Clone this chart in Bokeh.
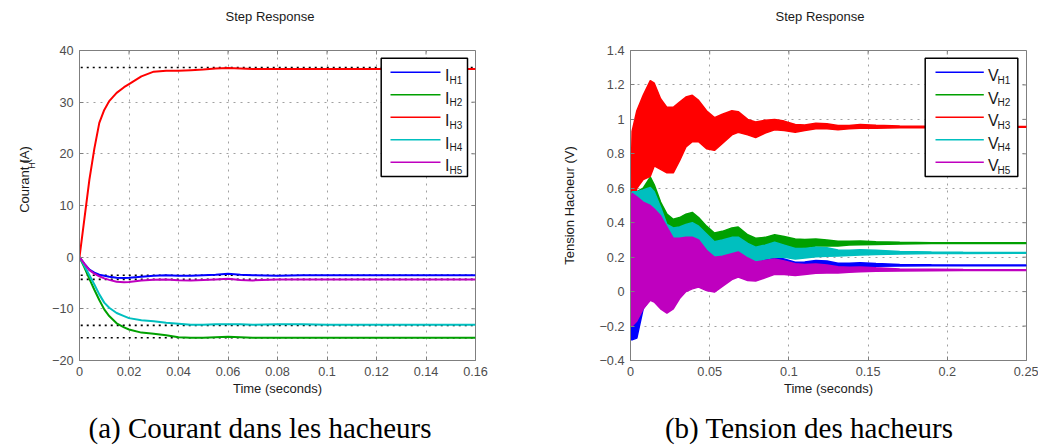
import numpy as np
from bokeh.plotting import figure
from bokeh.models import Range1d, FixedTicker, Div, Spacer
from bokeh.layouts import row, column
from bokeh.embed import file_html
from bokeh.resources import INLINE
from bokeh.core.properties import value

# ---------------- data: (a) currents ----------------
t_i = [0, 0.002, 0.004, 0.006, 0.008, 0.01, 0.012, 0.015, 0.018, 0.02, 0.025, 0.03, 0.035,
       0.04, 0.045, 0.05, 0.055, 0.06, 0.065, 0.07, 0.08, 0.09, 0.1, 0.12, 0.14, 0.16]
i_h1 = [0, -1.3, -2.4, -3.0, -3.4, -3.6, -3.8, -4.0, -4.05, -4.0, -3.8, -3.6, -3.5,
        -3.6, -3.6, -3.5, -3.4, -3.2, -3.4, -3.5, -3.6, -3.5, -3.5, -3.5, -3.5, -3.5]
i_h2 = [0, -2.0, -4.2, -6.3, -8.3, -10.1, -11.4, -12.8, -13.6, -14.0, -14.6, -14.8, -15.1,
        -15.5, -15.6, -15.6, -15.5, -15.4, -15.5, -15.6, -15.6, -15.6, -15.6, -15.6, -15.6, -15.6]
i_h3 = [0, 7.5, 15, 21, 26, 28.5, 30.2, 31.8, 32.9, 33.5, 35.0, 35.9, 36.1,
        36.1, 36.2, 36.3, 36.5, 36.6, 36.5, 36.4, 36.4, 36.4, 36.4, 36.4, 36.4, 36.4]
i_h4 = [0, -1.7, -3.5, -5.3, -7.2, -8.8, -9.8, -10.8, -11.4, -11.8, -12.2, -12.4, -12.7,
        -12.9, -13.1, -13.1, -13.0, -13.0, -13.0, -13.1, -13.0, -13.0, -13.1, -13.1, -13.1, -13.1]
i_h5 = [0, -1.3, -2.5, -3.2, -3.7, -4.1, -4.4, -4.75, -4.85, -4.8, -4.5, -4.35, -4.3,
        -4.45, -4.5, -4.4, -4.3, -4.2, -4.4, -4.5, -4.3, -4.3, -4.3, -4.3, -4.3, -4.3]
i_steady = [36.7, -3.5, -4.3, -13.2, -15.6]
i_steady_span = [0.0005, 0.16]

# ---------------- data: (b) voltages (envelopes of the oscillation) ----------------
t_v = [0, 0.001, 0.004, 0.008, 0.0125, 0.015, 0.019, 0.023, 0.027, 0.031, 0.035, 0.039,
       0.043, 0.048, 0.053, 0.058, 0.064, 0.068, 0.074, 0.079, 0.085, 0.091, 0.097, 0.104,
       0.11, 0.117, 0.124, 0.131, 0.138, 0.145, 0.155, 0.17, 0.19, 0.21, 0.25]
v_h1_hi = [.45, .5, .5, .48, .45, .43, .4, .34, .28, .28, .29, .3, .28, .22, .18, .19, .21, .215,
           .19, .17, .19, .2, .19, .17, .172, .18, .178, .165, .165, .168, .163, .158, .156, .155, .155]
v_h1_lo = [-.28, -.28, -.27, -.1, -.04, -.05, -.09, -.11, -.09, -.03, .01, .03, .04, .02, .01, .04,
           .08, .09, .08, .075, .09, .11, .11, .105, .11, .12, .125, .135, .14, .145, .147, .149, .15, .15, .15]
v_h2_hi = [.45, .55, .58, .6, .665, .62, .52, .45, .42, .43, .45, .46, .43, .38, .34, .35, .37, .375,
           .33, .31, .315, .33, .32, .305, .303, .306, .3, .292, .292, .294, .29, .286, .284, .283, .283]
v_h2_lo = [.3, .3, .3, .3, .32, .33, .3, .3, .3, .3, .32, .34, .33, .28, .26, .27, .28, .28, .26,
           .24, .25, .265, .26, .25, .255, .265, .265, .265, .27, .272, .274, .277, .279, .28, .28]
v_h3_hi = [.47, .93, 1.05, 1.14, 1.225, 1.21, 1.12, 1.07, 1.07, 1.10, 1.13, 1.14, 1.11, 1.05, 1.01,
           1.03, 1.05, 1.045, 1.0, .985, .995, 1.0, .99, .97, .968, .978, .975, .965, .965, .97,
           .966, .962, .96, .959, .958]
v_h3_lo = [.45, .48, .6, .65, .67, .73, .71, .69, .69, .76, .84, .87, .87, .83, .82, .86, .91, .925,
           .91, .895, .92, .94, .935, .925, .935, .945, .945, .94, .945, .948, .949, .951, .952, .953, .954]
v_h4_hi = [.5, .58, .58, .59, .605, .58, .49, .39, .37, .375, .39, .4, .38, .335, .29, .3, .315, .316,
           .28, .258, .27, .287, .27, .25, .25, .258, .255, .242, .24, .243, .24, .233, .23, .228, .227]
v_h4_lo = [.45, .5, .5, .48, .46, .44, .4, .34, .28, .28, .29, .29, .27, .21, .17, .18, .2, .21, .18,
           .17, .19, .2, .2, .19, .195, .203, .205, .207, .21, .213, .216, .219, .221, .222, .223]
v_h5_hi = [.5, .57, .55, .52, .5, .48, .44, .375, .31, .31, .315, .316, .3, .24, .2, .205, .22, .23,
           .195, .172, .18, .19, .178, .162, .158, .16, .155, .145, .142, .143, .138, .132, .13, .128, .127]
v_h5_lo = [-.19, -.2, -.17, -.1, -.05, -.06, -.1, -.125, -.1, -.04, 0, .016, .026, .006, -.003, .03,
           .07, .084, .065, .062, .08, .1, .1, .094, .1, .107, .108, .108, .112, .116, .118, .12,
           .121, .122, .122]

# ---------------- ticks and texts ----------------
xt_a = [0, 0.02, 0.04, 0.06, 0.08, 0.1, 0.12, 0.14, 0.16]
xt_a_labels = ["0", "0.02", "0.04", "0.06", "0.08", "0.1", "0.12", "0.14", "0.16"]
yt_a = [-20, -10, 0, 10, 20, 30, 40]
yt_a_labels = ["\u221220", "\u221210", "0", "10", "20", "30", "40"]
xt_b = [0, 0.05, 0.1, 0.15, 0.2, 0.25]
xt_b_labels = ["0", "0.05", "0.1", "0.15", "0.2", "0.25"]
yt_b = [-0.4, -0.2, 0, 0.2, 0.4, 0.6, 0.8, 1.0, 1.2, 1.4]
yt_b_labels = ["\u22120.4", "\u22120.2", "0", "0.2", "0.4", "0.6", "0.8", "1", "1.2", "1.4"]

colors = ["#0000ff", "#00a000", "#ff0000", "#00bfbf", "#bf00bf"]
subs = ["H1", "H2", "H3", "H4", "H5"]

SANS = "Liberation Sans"
SERIF = "Liberation Serif"
GRAY = "#7f7f7f"
TXT = "#1a1a1a"

# layout geometry (screen px)
TOP_H = 34            # title row
FIG_H = 380           # plots row
CAP_H = 446 - TOP_H - FIG_H
FT, FH, FW = 50, 310, 396
A_LEFT = 79
B_LEFT = 630
YLAB_W = 40


def make_fig(width, xr, yr, border_left, border_right, xt, xl, yt, yl):
    p = figure(width=width, height=FIG_H, x_range=Range1d(*xr), y_range=Range1d(*yr),
               output_backend="svg", toolbar_location=None, title=None,
               min_border_left=border_left, min_border_right=border_right,
               min_border_top=FT - TOP_H, min_border_bottom=FIG_H - (FT - TOP_H) - FH,
               margin=0)
    p.outline_line_color = GRAY
    p.outline_line_width = 1
    p.background_fill_color = "white"
    p.border_fill_color = "white"
    p.xaxis.ticker = FixedTicker(ticks=xt)
    p.yaxis.ticker = FixedTicker(ticks=yt)
    p.xaxis.major_label_overrides = dict(zip(xt, xl))
    p.yaxis.major_label_overrides = dict(zip(yt, yl))
    for ax in (p.xaxis[0], p.yaxis[0]):
        ax.axis_line_color = GRAY
        ax.major_tick_line_color = GRAY
        ax.major_tick_in = 4
        ax.major_tick_out = 0
        ax.minor_tick_line_color = None
        ax.major_label_text_font = SANS
        ax.major_label_text_font_size = "12.7px"
        ax.major_label_text_color = "#4d4d4d"
        ax.axis_label_text_font = SANS
        ax.axis_label_text_font_size = "13px"
        ax.axis_label_text_font_style = "normal"
        ax.axis_label_text_color = TXT
    p.xaxis.major_label_standoff = 6
    p.yaxis.major_label_standoff = 6
    p.xaxis.axis_label = "Time (seconds)"
    p.xaxis.axis_label_standoff = 2
    for g in (p.xgrid[0], p.ygrid[0]):
        g.grid_line_color = "#a0a0a0"
        g.grid_line_dash = "2 5"
        g.grid_line_width = 1
    # tick marks on the top and right sides of the box, from the tick arrays
    x0, x1 = xr
    y0, y1 = yr
    dx = (x1 - x0) * 4 / FW
    dy = (y1 - y0) * 4 / FH
    p.segment(x0=xt, y0=[y1] * len(xt), x1=xt, y1=[y1 - dy] * len(xt),
              line_color=GRAY, line_width=1)
    p.segment(x0=[x1] * len(yt), y0=yt, x1=[x1 - dx] * len(yt), y1=yt,
              line_color=GRAY, line_width=1)
    return p


# ================= y label strip for (a) =================
def sy_(py):
    return FIG_H - (py - TOP_H)


ylab = figure(width=YLAB_W, height=FIG_H, x_range=Range1d(0, YLAB_W), y_range=Range1d(0, FIG_H),
              output_backend="svg", toolbar_location=None, min_border=0, margin=0,
              x_axis_type=None, y_axis_type=None, title=None)
ylab.grid.visible = False
ylab.outline_line_color = None
ylab.text(x=[24], y=[sy_(233)], text=["Courant I"], angle=np.pi / 2,
          text_font=value(SANS), text_font_size=value("13px"),
          text_color=TXT, text_align="left", text_baseline="alphabetic")
ylab.text(x=[31], y=[sy_(179)], text=["H"], angle=np.pi / 2,
          text_font=value(SANS), text_font_size=value("9px"),
          text_color=TXT, text_align="left", text_baseline="alphabetic")
ylab.text(x=[24], y=[sy_(172.5)], text=[" (A)"], angle=np.pi / 2,
          text_font=value(SANS), text_font_size=value("13px"),
          text_color=TXT, text_align="left", text_baseline="alphabetic")

# ================= (a) =================
pa = make_fig(520 - YLAB_W, (0, 0.16), (-20, 40), A_LEFT - YLAB_W, 520 - A_LEFT - FW,
              xt_a, xt_a_labels, yt_a, yt_a_labels)


def ax_(px):
    return (px - A_LEFT) / FW * 0.16


def ay_(py):
    return 40 - (py - FT) / FH * 60


for s in i_steady:
    pa.line(i_steady_span, [s, s], line_color="black", line_width=1.6, line_dash="2 4")
for ys, c in zip([i_h1, i_h2, i_h3, i_h4, i_h5], colors):
    pa.line(t_i, ys, line_color=c, line_width=2)

rows_y = [71.7, 94.2, 116.7, 139.2, 161.7]
pa.quad(left=ax_(380.7), right=ax_(467), top=ay_(57.7), bottom=ay_(176),
        fill_color="white", line_color="black", line_width=1.5)
for yc, c in zip(rows_y, colors):
    pa.line([ax_(390), ax_(440)], [ay_(yc), ay_(yc)], line_color=c, line_width=1.5)
pa.text(x=[ax_(444.6)] * 5, y=[ay_(yc + 3.5) for yc in rows_y], text=["I"] * 5,
        text_font=value(SANS), text_font_size=value("16px"), text_color=TXT,
        text_baseline="alphabetic")
pa.text(x=[ax_(449)] * 5, y=[ay_(yc + 7.8) for yc in rows_y], text=subs,
        text_font=value(SANS), text_font_size=value("10px"), text_color=TXT,
        text_baseline="alphabetic")

# ================= (b) =================
pb = make_fig(518, (0, 0.25), (-0.4, 1.4), B_LEFT - 520, 518 - (B_LEFT - 520) - FW,
              xt_b, xt_b_labels, yt_b, yt_b_labels)
pb.yaxis[0].axis_label = "Tension Hacheur (V)"
pb.yaxis[0].axis_label_standoff = 19


def bx_(px):
    return (px - B_LEFT) / FW * 0.25


def by_(py):
    return 1.4 - (py - FT) / FH * 1.8


bands = [(v_h1_lo, v_h1_hi), (v_h2_lo, v_h2_hi), (v_h3_lo, v_h3_hi),
         (v_h4_lo, v_h4_hi), (v_h5_lo, v_h5_hi)]
for (lo, hi), c in zip(bands, colors):
    pb.varea(x=t_v, y1=lo, y2=hi, fill_color=c)
    pb.line(t_v, hi, line_color=c, line_width=1.5)
    pb.line(t_v, lo, line_color=c, line_width=1.5)

pb.quad(left=bx_(924.7), right=bx_(1017.3), top=by_(57.7), bottom=by_(176),
        fill_color="white", line_color="black", line_width=1.5)
for yc, c in zip(rows_y, colors):
    pb.line([bx_(935), bx_(983.3)], [by_(yc), by_(yc)], line_color=c, line_width=1.5)
pb.text(x=[bx_(987.6)] * 5, y=[by_(yc + 3.5) for yc in rows_y], text=["V"] * 5,
        text_font=value(SANS), text_font_size=value("16px"), text_color=TXT,
        text_baseline="alphabetic")
pb.text(x=[bx_(997)] * 5, y=[by_(yc + 7.8) for yc in rows_y], text=subs,
        text_font=value(SANS), text_font_size=value("10px"), text_color=TXT,
        text_baseline="alphabetic")

# ================= titles =================
title_style = {"font-family": SANS, "font-size": "13px", "line-height": "34px",
               "text-align": "center", "white-space": "nowrap", "color": TXT}
title_a = Div(text="Step Response", width=520, height=TOP_H, styles=title_style, margin=0)
title_b = Div(text="Step Response", width=436, height=TOP_H, styles=title_style, margin=0)
title_row = row(Spacer(width=10, height=TOP_H, margin=0), title_a,
                Spacer(width=72, height=TOP_H, margin=0), title_b, margin=0)

# ================= captions =================
cap_style = {"font-family": SERIF, "font-size": "29px", "line-height": "1",
             "text-align": "center", "white-space": "nowrap", "color": "black",
             "overflow": "visible"}
cap_a = Div(text="(a) Courant dans les hacheurs", width=520, height=CAP_H,
            styles=cap_style, margin=0)
cap_b = Div(text="(b) Tension des hacheurs", width=458, height=CAP_H,
            styles=cap_style, margin=0)
cap_row = row(cap_a, Spacer(width=60, height=CAP_H, margin=0), cap_b, margin=0)

layout = column(title_row, row(ylab, pa, pb, margin=0), cap_row, margin=0)
open("out.html", "w").write(file_html(layout, INLINE))
